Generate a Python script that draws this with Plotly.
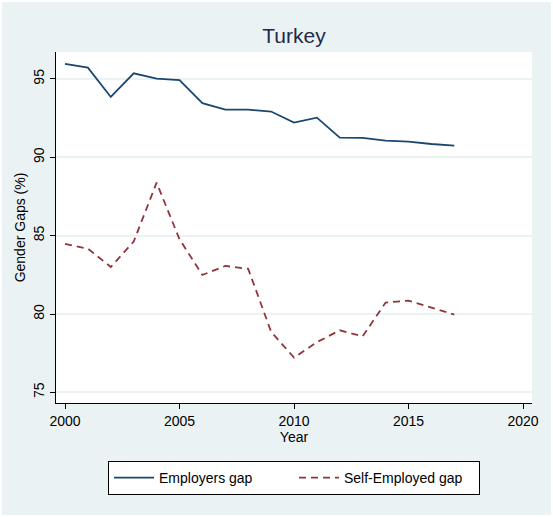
import plotly.graph_objects as go

# data
years = list(range(2000, 2018))
employers_gap = [95.96, 95.72, 93.85, 95.36, 95.02, 94.92, 93.45, 93.04, 93.04,
                 92.92, 92.21, 92.53, 91.25, 91.24, 91.07, 91.00, 90.85, 90.75]
self_employed_gap = [84.47, 84.17, 83.00, 84.62, 88.38, 84.77, 82.49, 83.07, 82.88,
                     78.87, 77.22, 78.20, 78.96, 78.58, 80.73, 80.85, 80.41, 79.96]

x_ticks = [2000, 2005, 2010, 2015, 2020]
y_ticks = [75, 80, 85, 90, 95]

FONT = "Liberation Sans Narrow, Arial Narrow, Liberation Sans, Arial, sans-serif"
BG = "#eaf2f3"

# page has a thin white border, figure sits inside it
W, H = 549, 513

fig = go.Figure()

fig.add_trace(
    go.Scatter(
        x=years,
        y=employers_gap,
        mode="lines",
        name="Employers gap",
        line=dict(color="#1a476f", width=1.8)
    )
)

fig.add_trace(
    go.Scatter(
        x=years,
        y=self_employed_gap,
        mode="lines",
        name="Self-Employed gap",
        line=dict(color="#90353b", width=1.8, dash="7px,5px")
    )
)

fig.update_layout(
    width=W,
    height=H,
    paper_bgcolor=BG,
    plot_bgcolor="white",
    font=dict(family=FONT, size=14, color="black"),
    title=dict(
        text="Turkey",
        x=292 / W,
        xanchor="center",
        y=1 - 34 / H,
        yanchor="middle",
        font=dict(size=21, color="#1e2b4a")
    ),
    margin=dict(l=54, r=19, t=50, b=112, autoexpand=False),
    showlegend=True,
    legend=dict(
        orientation="h",
        x=0.5,
        xanchor="center",
        yref="container",
        y=1 - 459 / H,
        yanchor="top",
        bgcolor="white",
        bordercolor="black",
        borderwidth=1,
        itemwidth=40,
        entrywidth=130,
        entrywidthmode="pixels",
        font=dict(size=14)
    ),
    xaxis=dict(
        range=[1999.607, 2020.393],
        tickvals=x_ticks,
        ticks="outside",
        ticklen=5,
        tickcolor="black",
        showline=True,
        linecolor="black",
        linewidth=1,
        showgrid=False,
        zeroline=False,
        automargin=False,
        title=dict(text="Year", standoff=0, font=dict(size=14))
    ),
    yaxis=dict(
        range=[74.32, 96.72],
        tickvals=y_ticks,
        tickangle=-90,
        ticks="outside",
        ticklen=5,
        tickcolor="black",
        showline=True,
        linecolor="black",
        linewidth=1,
        showgrid=True,
        gridcolor=BG,
        gridwidth=1.5,
        zeroline=False,
        automargin=False,
        title=dict(text="Gender Gaps (%)", standoff=2, font=dict(size=14))
    )
)

fig.write_html(
    "out.html",
    post_script="document.body.style.margin='2px';"
)
